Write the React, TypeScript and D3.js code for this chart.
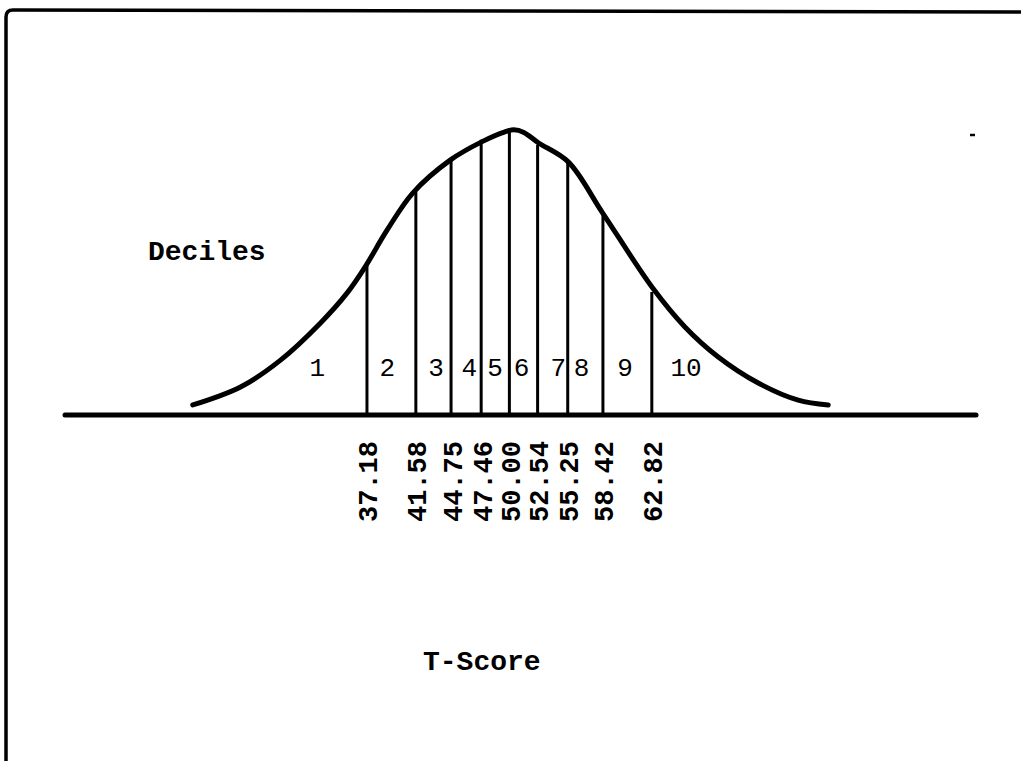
import { useRef, useEffect } from "react";
import * as d3 from "d3";

// decile cut points on the T-score scale
const cutPoints = [37.18, 41.58, 44.75, 47.46, 50.0, 52.54, 55.25, 58.42, 62.82];
const cutLabels = ["37.18", "41.58", "44.75", "47.46", "50.00", "52.54", "55.25", "58.42", "62.82"];
// height of each cut line, as a share of the curve's peak
const cutHeights = [0.524, 0.78, 0.899, 0.962, 0.99, 0.945, 0.881, 0.71, 0.43];

const decileNames = ["1", "2", "3", "4", "5", "6", "7", "8", "9", "10"];
const decileLabelT = [32.7, 39.0, 43.4, 46.4, 48.7, 51.1, 54.4, 56.5, 60.4, 65.9];

// hand-drawn curve (T-score, share of peak)
const curveT = [21.5, 25.8, 29.4, 33.0, 35.4, 37.0, 39.0, 41.3, 44.7, 47.5, 49.6, 50.4, 51.3, 52.6, 55.3, 58.4, 62.9, 65.8, 68.8, 72.4, 76.0, 78.7];
const curveH = [0.035, 0.098, 0.192, 0.322, 0.427, 0.517, 0.647, 0.776, 0.892, 0.955, 0.99, 0.997, 0.988, 0.952, 0.885, 0.706, 0.444, 0.308, 0.203, 0.112, 0.052, 0.035];

const width = 1021;
const height = 761;
const font = "'Liberation Mono', 'DejaVu Sans Mono', monospace";

const DecilesChart = () => {
  const svgRef = useRef<SVGSVGElement>(null);

  useEffect(() => {
    const svg = d3.select(svgRef.current);
    svg.selectAll("*").remove();

    const x = d3.scaleLinear().domain([10, 92]).range([65, 976]);
    const y = d3.scaleLinear().domain([0, 1]).range([415, 129]);

    // frame left over from the scanned page
    svg
      .append("path")
      .attr("d", "M6,761 L6,17 Q6,10 13,10 L1021,12")
      .attr("fill", "none")
      .attr("stroke", "#000")
      .attr("stroke-width", 3.5);

    // base line
    svg
      .append("line")
      .attr("x1", x(10))
      .attr("x2", x(92))
      .attr("y1", y(0))
      .attr("y2", y(0))
      .attr("stroke", "#000")
      .attr("stroke-width", 5)
      .attr("stroke-linecap", "round");

    // cut lines
    svg
      .selectAll("line.cut")
      .data(cutPoints)
      .enter()
      .append("line")
      .attr("class", "cut")
      .attr("x1", (d) => x(d))
      .attr("x2", (d) => x(d))
      .attr("y1", y(0))
      .attr("y2", (d, i) => y(cutHeights[i]))
      .attr("stroke", "#000")
      .attr("stroke-width", 3);

    const pts = curveT.map((t, i) => [t, curveH[i]] as [number, number]);
    const line = d3
      .line<[number, number]>()
      .x((d) => x(d[0]))
      .y((d) => y(d[1]))
      .curve(d3.curveCatmullRom);

    svg
      .append("path")
      .datum(pts)
      .attr("d", line)
      .attr("fill", "none")
      .attr("stroke", "#000")
      .attr("stroke-width", 5)
      .attr("stroke-linecap", "round")
      .attr("stroke-linejoin", "round");

    // decile numbers
    svg
      .selectAll("text.dec")
      .data(decileNames)
      .enter()
      .append("text")
      .attr("class", "dec")
      .attr("x", (d, i) => x(decileLabelT[i]))
      .attr("y", 376)
      .attr("text-anchor", "middle")
      .attr("font-family", font)
      .attr("font-size", 26)
      .attr("fill", "#000")
      .text((d) => d);

    // T-score ticks, written upward
    svg
      .selectAll("text.tick")
      .data(cutPoints)
      .enter()
      .append("text")
      .attr("class", "tick")
      .attr("transform", (d) => `translate(${x(d) + 1},522) rotate(-90)`)
      .attr("dy", "0.35em")
      .attr("text-anchor", "start")
      .attr("font-family", font)
      .attr("font-weight", "bold")
      .attr("font-size", 27)
      .attr("fill", "#000")
      .text((d, i) => cutLabels[i]);

    svg
      .append("text")
      .attr("x", 148)
      .attr("y", 260)
      .attr("font-family", font)
      .attr("font-weight", "bold")
      .attr("font-size", 28)
      .attr("fill", "#000")
      .text("Deciles");

    svg
      .append("text")
      .attr("x", 423)
      .attr("y", 670)
      .attr("font-family", font)
      .attr("font-weight", "bold")
      .attr("font-size", 28)
      .attr("fill", "#000")
      .text("T-Score");

    // stray mark on the scan
    svg
      .append("line")
      .attr("x1", 970)
      .attr("x2", 975)
      .attr("y1", 135)
      .attr("y2", 135)
      .attr("stroke", "#000")
      .attr("stroke-width", 2.5);
  }, []);

  return (
    <svg
      ref={svgRef}
      width={width}
      height={height}
      style={{ position: "absolute", left: 0, top: 0, display: "block", background: "#fff" }}
    ></svg>
  );
};

export default function App() {
  return <DecilesChart />;
}
